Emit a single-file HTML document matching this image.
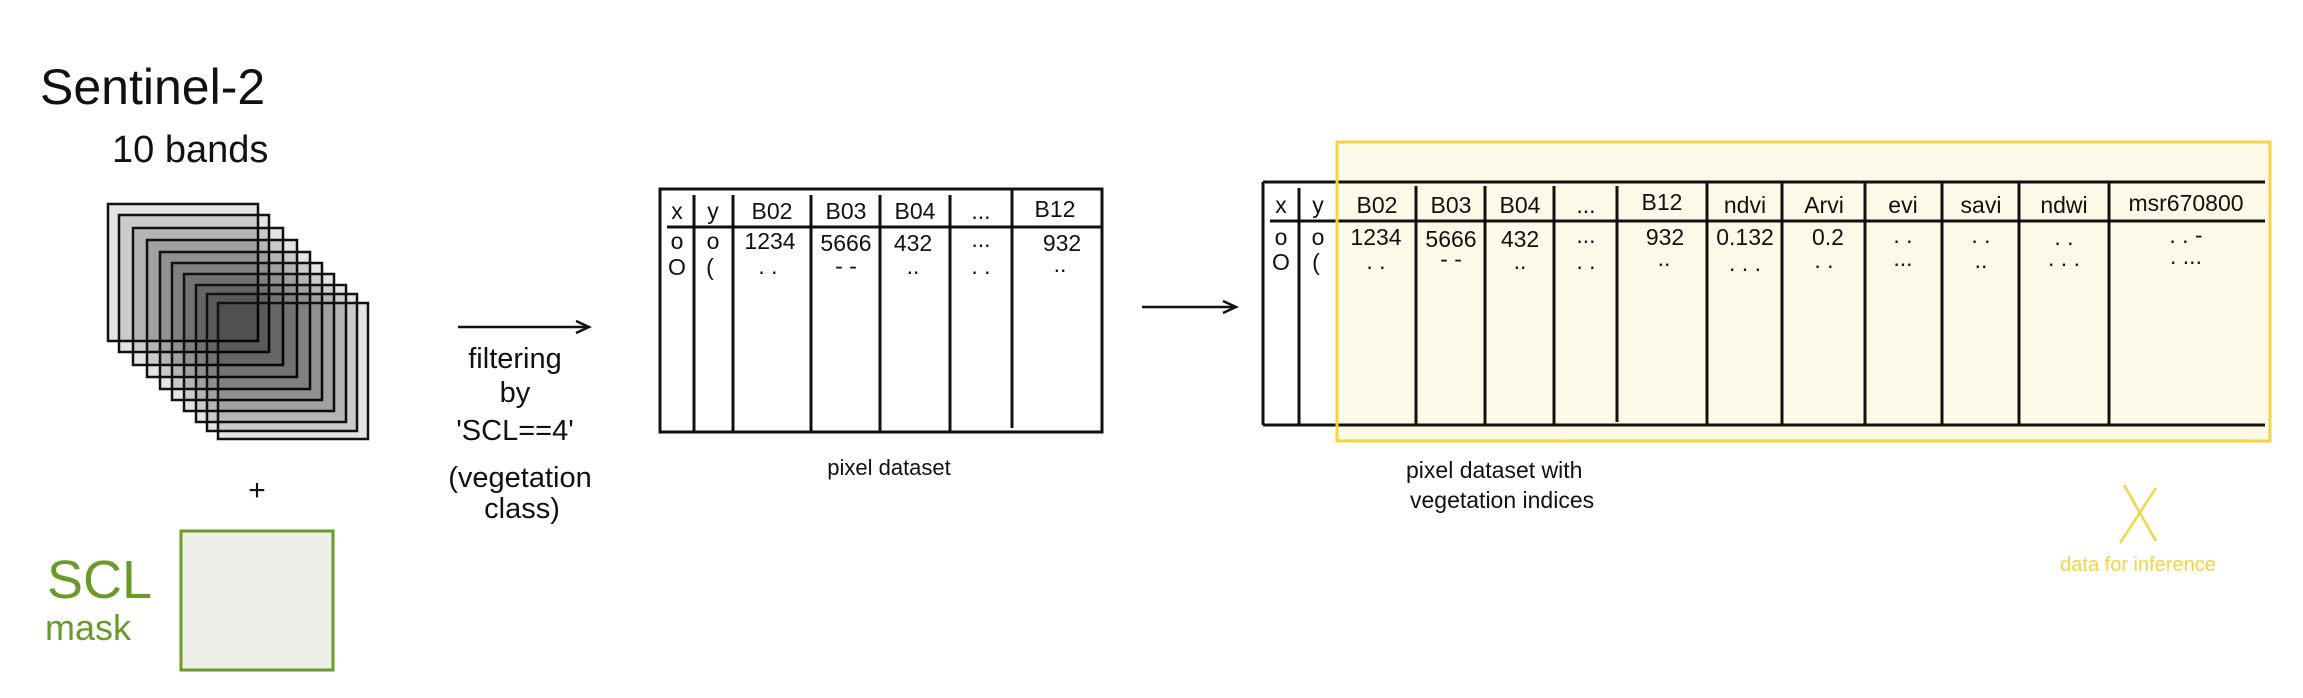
<!DOCTYPE html>
<html><head><meta charset="utf-8"><style>
html,body{margin:0;padding:0;background:#fff;}
svg{display:block;font-family:"Liberation Sans",sans-serif;}
</style></head><body>
<svg width="2303" height="698" viewBox="0 0 2303 698" xmlns="http://www.w3.org/2000/svg">
<text x="40" y="104" font-size="50" fill="#111">Sentinel-2</text>
<text x="112" y="162" font-size="38" fill="#111">10 bands</text>
<g stroke="#111" stroke-width="2.5" fill="rgba(0,0,0,0.105)">
<rect x="108" y="204" width="150" height="137"/>
<rect x="119" y="215" width="150" height="137"/>
<rect x="133" y="228" width="150" height="137"/>
<rect x="147" y="240" width="150" height="137"/>
<rect x="160" y="252" width="150" height="137"/>
<rect x="172" y="263" width="150" height="137"/>
<rect x="184" y="274" width="150" height="137"/>
<rect x="196" y="285" width="150" height="137"/>
<rect x="207" y="294" width="150" height="137"/>
<rect x="218" y="303" width="150" height="136"/>
</g>
<text x="257" y="500" font-size="30" text-anchor="middle" fill="#111">+</text>
<rect x="181" y="531" width="152" height="139" fill="#edf0e8" stroke="#6a9a2a" stroke-width="3"/>
<text x="47" y="598" font-size="54" fill="#6a9a2a">SCL</text>
<text x="45" y="640" font-size="36" fill="#6a9a2a">mask</text>
<line x1="458" y1="327" x2="587" y2="327" stroke="#111" stroke-width="2.5"/>
<path d="M576 321 L589 327 L576 333" fill="none" stroke="#111" stroke-width="2.5"/>
<g font-size="29" fill="#111" text-anchor="middle">
<text x="515" y="368">filtering</text>
<text x="515" y="402">by</text>
<text x="515" y="440">'SCL==4'</text>
<text x="520" y="487">(vegetation</text>
<text x="522" y="518">class)</text>
</g>
<g stroke="#111" stroke-width="3" fill="none">
<rect x="660" y="189" width="442" height="243"/>
<line x1="667" y1="227" x2="1102" y2="227"/>
<line x1="694" y1="195" x2="694" y2="432"/>
<line x1="733" y1="195" x2="733" y2="432"/>
<line x1="811" y1="195" x2="811" y2="432"/>
<line x1="880" y1="195" x2="880" y2="432"/>
<line x1="950" y1="195" x2="950" y2="432"/>
<line x1="1012" y1="189" x2="1012" y2="428"/>
</g>
<g font-size="23" fill="#111" text-anchor="middle">
<text x="677" y="219">x</text><text x="713" y="219">y</text>
<text x="772" y="219">B02</text><text x="846" y="219">B03</text><text x="915" y="219">B04</text>
<text x="981" y="219">...</text><text x="1055" y="217">B12</text>
<text x="677" y="249">o</text><text x="713" y="249">o</text>
<text x="770" y="249">1234</text><text x="846" y="251">5666</text><text x="913" y="251">432</text>
<text x="981" y="247">...</text><text x="1062" y="251">932</text>
<text x="677" y="275">O</text><text x="710" y="275">(</text>
<text x="768" y="274">. .</text><text x="846" y="274">- -</text><text x="913" y="274">..</text>
<text x="981" y="274">. .</text><text x="1060" y="272">..</text>
</g>
<text x="889" y="475" font-size="22" text-anchor="middle" fill="#111">pixel dataset</text>
<line x1="1142" y1="307" x2="1234" y2="307" stroke="#111" stroke-width="2.5"/>
<path d="M1223 301 L1236 307 L1223 313" fill="none" stroke="#111" stroke-width="2.5"/>
<rect x="1337" y="142" width="933" height="299" fill="#fdf9e8" stroke="#f5d442" stroke-width="3"/>
<g stroke="#111" stroke-width="3" fill="none">
<line x1="1263" y1="182" x2="2265" y2="182"/>
<line x1="1263" y1="425" x2="2265" y2="425"/>
<line x1="1263" y1="182" x2="1263" y2="425"/>
<line x1="1270" y1="221" x2="2265" y2="221"/>
<line x1="1299" y1="188" x2="1299" y2="425"/>
<line x1="1337" y1="182" x2="1337" y2="425"/>
<line x1="1416" y1="186" x2="1416" y2="425"/>
<line x1="1485" y1="186" x2="1485" y2="425"/>
<line x1="1554" y1="186" x2="1554" y2="425"/>
<line x1="1617" y1="186" x2="1617" y2="422"/>
<line x1="1707" y1="182" x2="1707" y2="425"/>
<line x1="1782" y1="182" x2="1782" y2="425"/>
<line x1="1865" y1="182" x2="1865" y2="425"/>
<line x1="1942" y1="182" x2="1942" y2="425"/>
<line x1="2019" y1="182" x2="2019" y2="425"/>
<line x1="2109" y1="182" x2="2109" y2="425"/>
</g>
<rect x="1337" y="142" width="933" height="299" fill="none" stroke="#f5d442" stroke-width="3"/>
<g font-size="23" fill="#111" text-anchor="middle">
<text x="1281" y="213">x</text><text x="1318" y="213">y</text>
<text x="1377" y="213">B02</text><text x="1451" y="213">B03</text><text x="1520" y="213">B04</text>
<text x="1586" y="213">...</text><text x="1662" y="210">B12</text>
<text x="1745" y="213">ndvi</text><text x="1824" y="213">Arvi</text><text x="1903" y="213">evi</text>
<text x="1981" y="213">savi</text><text x="2064" y="213">ndwi</text><text x="2186" y="211">msr670800</text>
<text x="1281" y="245">o</text><text x="1318" y="245">o</text>
<text x="1376" y="245">1234</text><text x="1451" y="247">5666</text><text x="1520" y="247">432</text>
<text x="1586" y="243">...</text><text x="1665" y="245">932</text>
<text x="1745" y="245">0.132</text><text x="1828" y="245">0.2</text>
<text x="1903" y="243">. .</text><text x="1981" y="243">. .</text><text x="2064" y="245">. .</text><text x="2186" y="243">. . -</text>
<text x="1281" y="270">O</text><text x="1316" y="270">(</text>
<text x="1376" y="269">. .</text><text x="1451" y="267">- -</text><text x="1520" y="269">..</text>
<text x="1586" y="269">. .</text><text x="1664" y="266">..</text>
<text x="1745" y="271">. . .</text><text x="1824" y="268">. .</text><text x="1903" y="266">...</text>
<text x="1981" y="268">..</text><text x="2064" y="266">. . .</text><text x="2186" y="264">. ...</text>
</g>
<text x="1406" y="478" font-size="23" fill="#111">pixel dataset with</text>
<text x="1410" y="508" font-size="23" fill="#111">vegetation indices</text>
<path d="M2124 485 L2156 541 M2156 488 L2120 543" stroke="#f5d442" stroke-width="2.5" fill="none"/>
<text x="2138" y="571" font-size="20" text-anchor="middle" fill="#f5d442">data for inference</text>
</svg>
</body></html>
